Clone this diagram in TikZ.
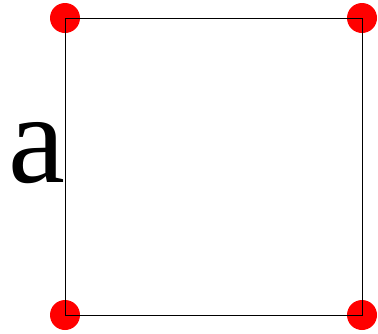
\documentclass[tikz,border=0pt]{standalone}
\usepackage{fontspec}
\setmainfont{Liberation Serif}
\usetikzlibrary{positioning}
\tikzset{
  corner/.style={
    circle,
    fill=red,
    inner sep=0pt,
    minimum size=30pt
  },
  side/.style={line width=1pt},
  sidelabel/.style={font=\fontsize{128}{128}\selectfont, inner sep=0pt}
}
\begin{document}
\begin{tikzpicture}[x=1pt,y=-1pt]
\useasboundingbox (0,0) rectangle (378,333);
\node[corner] (tl) at (65,18) {};
\node[corner] (tr) at (362,18) {};
\node[corner] (br) at (362,315) {};
\node[corner] (bl) at (65,315) {};
\node[sidelabel, anchor=base east] (side) at (66,182) {a};

\draw[side] (tl.center) -- (tr.center) -- (br.center) -- (bl.center) -- cycle;
\end{tikzpicture}
\end{document}
